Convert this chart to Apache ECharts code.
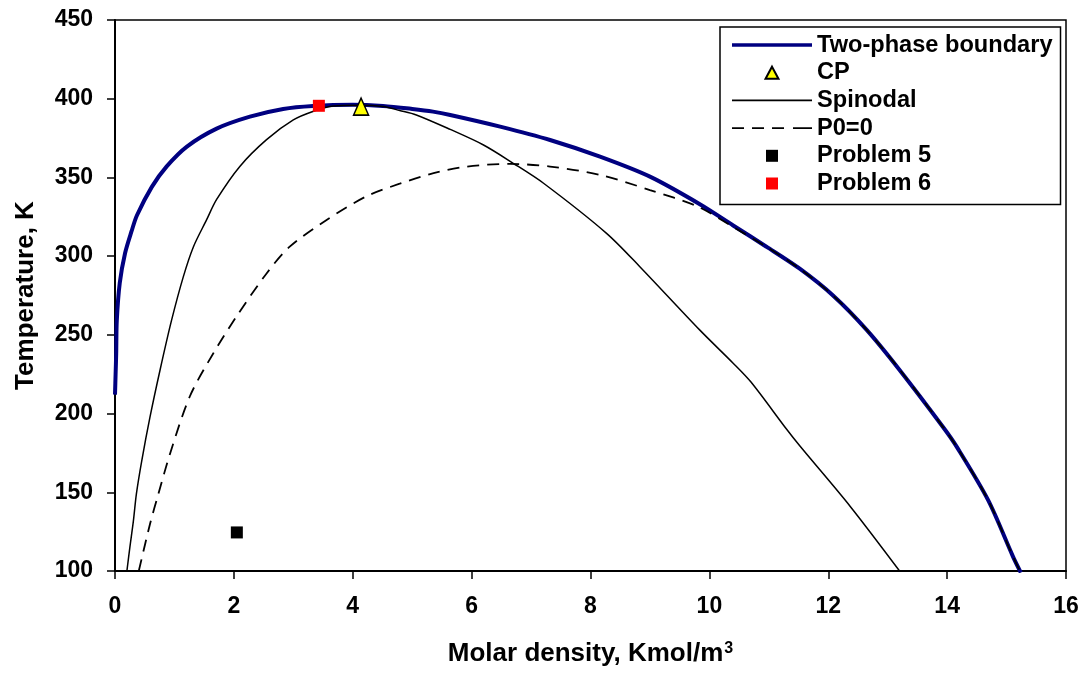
<!DOCTYPE html>
<html><head><meta charset="utf-8">
<script src="https://cdn.jsdelivr.net/npm/echarts@6/dist/echarts.min.js"></script>
<style>html,body{margin:0;padding:0;background:#fff}#c{width:1089px;height:682px}</style>
</head><body><div id="c"></div>
<script>
// Two-phase boundary (molar density, temperature)
const twoPhaseX = [0.00, 0.01, 0.02, 0.03, 0.08, 0.17, 0.28, 0.37, 0.62, 0.87, 1.21, 1.71, 2.27, 2.83, 3.33, 4.00, 4.51, 5.00, 5.35, 5.64, 6.48, 7.32, 8.16, 9.00, 9.84, 10.40, 10.96, 11.52, 12.08, 12.65, 13.20, 13.94, 14.16, 14.69, 15.11, 15.24];
const twoPhaseT = [212, 225, 238, 259, 283, 302, 316, 326, 344, 357, 369.6, 381, 388.6, 393.5, 395.4, 396.2, 395.4, 393.5, 391.8, 389.7, 382.3, 373.8, 363.2, 350.5, 333, 319.5, 306, 292, 275, 253, 227.7, 191, 179, 145, 109, 99];
// Spinodal
const spinX = [0.20, 0.25, 0.31, 0.36, 0.45, 0.59, 0.76, 0.95, 1.15, 1.32, 1.54, 1.71, 2.10, 2.55, 3.00, 3.34, 3.67, 4.10, 4.51, 4.79, 5.07, 5.64, 6.20, 6.70, 7.21, 8.27, 8.83, 9.84, 10.40, 10.70, 11.30, 11.52, 12.37, 13.22];
const spinT = [100, 115, 132, 149, 170, 198, 228, 259, 287, 306, 323, 336, 357, 374, 386.5, 392, 395.4, 395.8, 395, 392.5, 389.7, 380.5, 370.6, 359, 346.3, 314.5, 293.3, 253, 232, 220, 190, 179.5, 141, 99];
// P0=0
const p0X = [0.40, 0.59, 0.73, 0.93, 1.26, 1.65, 2.05, 2.55, 2.94, 3.56, 4.23, 4.79, 5.36, 5.92, 6.65, 7.32, 8.16, 9.00, 9.81, 10.40, 10.96, 11.52, 12.08, 12.65, 13.20, 13.94, 14.16, 14.69, 15.11, 15.24];
const p0T = [100, 130, 149, 175, 211, 238, 262, 289, 306, 323, 338, 346, 352.7, 356.9, 358.6, 356.9, 351.6, 342, 331.4, 318.5, 306, 292, 275, 253, 228, 191, 179, 145, 109, 99];
// Single points
const cpPoint = [4.14, 395.0];
const problem5 = [2.05, 124.5];
const problem6 = [3.43, 395.5];
// Axis ticks
const xMin = 0, xMax = 16, xStep = 2;
const yMin = 100, yMax = 450, yStep = 50;

const zip = (xs, ys) => xs.map((x, i) => [x, ys[i]]);
const FONT = "'Liberation Sans', Arial, sans-serif";

// legend glyphs (icon shapes only)
const ICON_THICK = 'path://M0,0L80,0L80,3.5L0,3.5Z';
const ICON_THIN = 'path://M0,0L80,0L80,1.6L0,1.6Z';
const ICON_DASH = 'path://M0,0L12,0L12,1.8L0,1.8Z M20,0L32,0L32,1.8L20,1.8Z M40,0L52,0L52,1.8L40,1.8Z M61,0L80,0L80,1.8L61,1.8Z';
const ICON_TRI = 'path://M7,0L14,13L0,13Z';
const ICON_SQ = 'path://M0,0L10,0L10,10L0,10Z';

const chart = echarts.init(document.getElementById('c'), null, {renderer: 'canvas'});
chart.setOption({
  backgroundColor: '#fff',
  animation: false,
  grid: {left: 115, right: 23, top: 20, bottom: 111, show: true, borderColor: '#000', borderWidth: 1.5, backgroundColor: 'transparent', outerBoundsMode: 'none'},
  xAxis: {
    type: 'value', min: xMin, max: xMax, interval: xStep,
    axisLine: {onZero: false, lineStyle: {color: '#000', width: 2}},
    axisTick: {inside: false, length: 8, lineStyle: {color: '#000', width: 1.5}},
    axisLabel: {fontSize: 23, fontWeight: 'bold', color: '#000', fontFamily: FONT, margin: 24},
    splitLine: {show: false},
    name: 'Molar density, Kmol/m{sup|3}', nameLocation: 'middle', nameGap: 70,
    nameTextStyle: {fontSize: 26, fontWeight: 'bold', color: '#000', fontFamily: FONT,
      rich: {sup: {fontSize: 16, fontWeight: 'bold', color: '#000', fontFamily: FONT, verticalAlign: 'top', padding: [0, 0, 0, 1]}}}
  },
  yAxis: {
    type: 'value', min: yMin, max: yMax, interval: yStep,
    axisLine: {onZero: false, lineStyle: {color: '#000', width: 2}},
    axisTick: {inside: false, length: 8, lineStyle: {color: '#000', width: 1.5}},
    axisLabel: {fontSize: 23, fontWeight: 'bold', color: '#000', fontFamily: FONT, margin: 22},
    splitLine: {show: false},
    name: 'Temperature, K', nameLocation: 'middle', nameGap: 76, nameRotate: 90,
    nameTextStyle: {fontSize: 26, fontWeight: 'bold', color: '#000', fontFamily: FONT}
  },
  legend: {
    orient: 'vertical', left: 720, top: 27,
    padding: [6, 8, 9, 12],
    itemWidth: 80, itemHeight: 12, itemGap: 3.7,
    borderColor: '#000', borderWidth: 1.5, backgroundColor: '#fff',
    textStyle: {fontSize: 23.6, fontWeight: 'bold', color: '#000', fontFamily: FONT, lineHeight: 24},
    data: [
      {name: 'Two-phase boundary', icon: ICON_THICK, itemStyle: {color: '#000080', borderWidth: 0}},
      {name: 'CP', icon: ICON_TRI},
      {name: 'Spinodal', icon: ICON_THIN, itemStyle: {color: '#000', borderWidth: 0}},
      {name: 'P0=0', icon: ICON_DASH, itemStyle: {color: '#000', borderWidth: 0}},
      {name: 'Problem 5', icon: ICON_SQ},
      {name: 'Problem 6', icon: ICON_SQ}
    ]
  },
  series: [
    {name: 'Two-phase boundary', type: 'line', data: zip(twoPhaseX, twoPhaseT), symbol: 'none', showSymbol: false, smooth: 0.3,
      color: '#000080', lineStyle: {color: '#000080', width: 4}, z: 2},
    {name: 'CP', type: 'scatter', data: [cpPoint], symbol: 'triangle', symbolSize: [15, 17],
      itemStyle: {color: '#ffff00', borderColor: '#000', borderWidth: 1.5, opacity: 1}, z: 10},
    {name: 'Spinodal', type: 'line', data: zip(spinX, spinT), symbol: 'none', showSymbol: false, smooth: 0.3,
      color: '#000', lineStyle: {color: '#000', width: 1.5}, z: 3},
    {name: 'P0=0', type: 'line', data: zip(p0X, p0T), symbol: 'none', showSymbol: false, smooth: 0.3,
      color: '#000', lineStyle: {color: '#000', width: 1.8, type: [12, 8]}, z: 4},
    {name: 'Problem 5', type: 'scatter', data: [problem5], symbol: 'rect', symbolSize: 12,
      itemStyle: {color: '#000', opacity: 1}, z: 10},
    {name: 'Problem 6', type: 'scatter', data: [problem6], symbol: 'rect', symbolSize: 12,
      itemStyle: {color: '#ff0000', opacity: 1}, z: 10}
  ]
});
</script>
</body></html>
